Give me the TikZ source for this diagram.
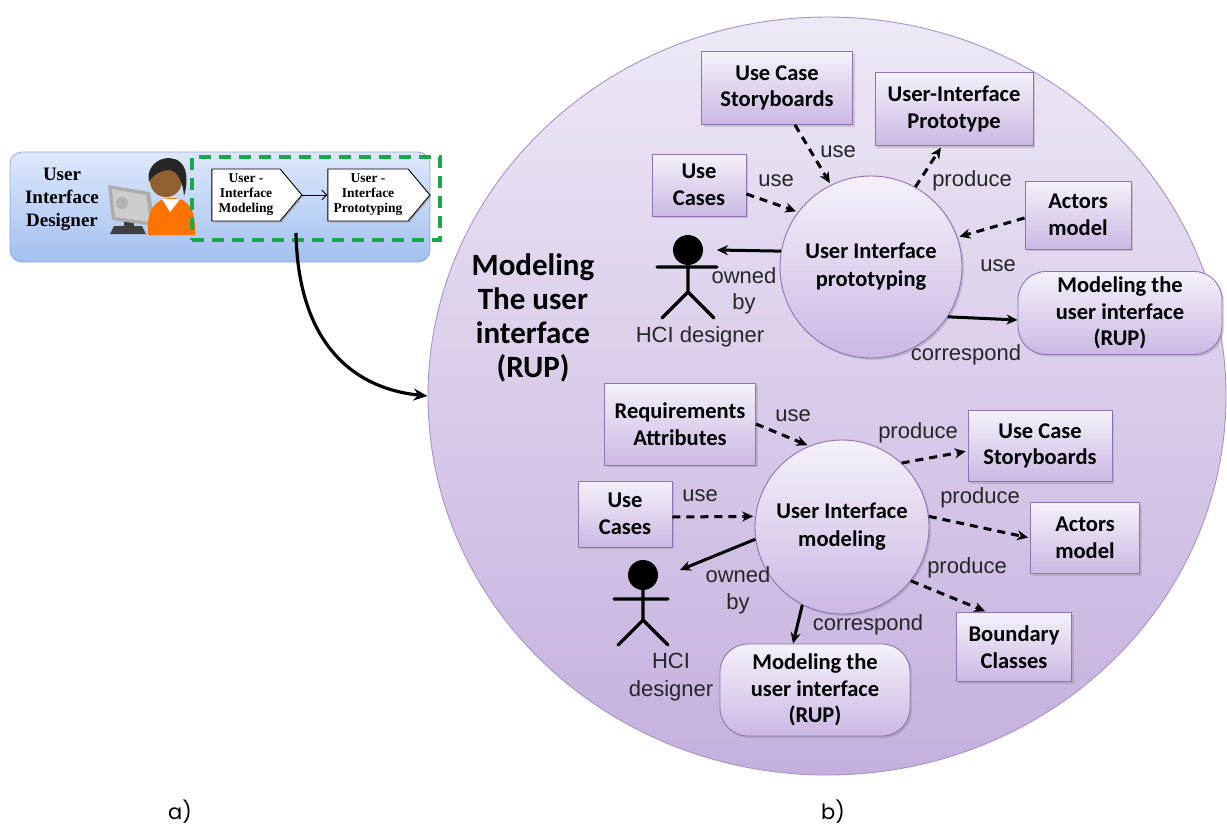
\documentclass[tikz,border=0pt]{standalone}
\usepackage{fontspec}
\setmainfont{Liberation Sans}
\newfontfamily\boxfont{Carlito}
\newfontfamily\titlefont{Liberation Serif}
\newfontfamily\capfont{Poppins}
\usetikzlibrary{shapes.geometric,shapes.symbols,shadows,arrows.meta,calc}

\definecolor{boxtop}{HTML}{F5F1FA}
\definecolor{boxbot}{HTML}{CBB8E3}
\definecolor{boxline}{HTML}{8C74B6}
\definecolor{bigtop}{HTML}{EEE8F6}
\definecolor{bigbot}{HTML}{C4B0DD}
\definecolor{bigline}{HTML}{A893C8}
\definecolor{paneltop}{HTML}{DDE8FB}
\definecolor{panelbot}{HTML}{A3C0F0}
\definecolor{panelline}{HTML}{8FAADB}
\definecolor{dashgreen}{HTML}{19A84B}

\tikzset{
  boxnode/.style={draw=boxline, line width=0.9pt, top color=boxtop, bottom color=boxbot,
    font=\boxfont\bfseries\fontsize{22.5}{26.5}\selectfont, align=center, inner sep=0pt,
    drop shadow={opacity=0.3, shadow xshift=2pt, shadow yshift=-2pt}},
  procnode/.style={circle, draw=boxline, line width=0.9pt, top color=boxtop, bottom color=boxbot,
    font=\boxfont\bfseries\fontsize{22.5}{28}\selectfont, align=center, inner sep=0pt,
    drop shadow={opacity=0.3, shadow xshift=2pt, shadow yshift=-2pt}},
  rupnode/.style={boxnode, rounded corners=28pt},
  dsh/.style={-{Stealth[length=11pt,width=10pt]}, line width=3pt, dash pattern=on 8pt off 6pt, shorten >=2pt},
  sol/.style={-{Stealth[length=11pt,width=10pt]}, line width=3pt},
  lbl/.style={font=\fontsize{22}{26}\selectfont, text=black!85, inner sep=0pt},
  stick/.style={line width=3.2pt, line cap=round},
  stepnode/.style={signal, signal to=east, signal pointer angle=100, draw=black, line width=0.9pt,
    fill=white, font=\titlefont\bfseries\fontsize{13.5}{15}\selectfont, align=center,
    inner sep=0pt, drop shadow={opacity=0.35, shadow xshift=1.5pt, shadow yshift=-1.5pt}},
}

\begin{document}
\begin{tikzpicture}[x=1pt,y=-1pt]
\useasboundingbox (0,0) rectangle (1227,825);
\fill[white] (0,0) rectangle (1227,825);

% ---------- left panel: designer and activities ----------
\node (panel) [draw=panelline, line width=0.8pt, rounded corners=12pt, top color=paneltop,
  bottom color=panelbot, minimum width=420pt, minimum height=110pt, inner sep=0pt] at (220,207) {};
\node (role) [font=\titlefont\bfseries\fontsize{19}{23}\selectfont, align=center] at (62,199)
  {User\\Interface\\Designer};

% person at a monitor
\fill[black!75] (114,226) -- (142,226) -- (146,234) -- (110,234) -- cycle;
\fill[gray!50!black] (124,212) rectangle (134,228);
\fill[gray!65] (108,185) -- (150,192) -- (155,226) -- (112,220) -- cycle;
\fill[gray!40] (112,189) -- (146,195) -- (150,222) -- (115,217) -- cycle;
\fill[gray!60] (122,203) circle (6pt);
\fill[orange!90!red] (148,235) .. controls (146,210) and (155,198) .. (172,198)
  .. controls (189,198) and (196,210) .. (195,235) -- cycle;
\fill[white] (162,199) -- (170,212) -- (180,199) -- cycle;
\fill[brown!75!black] (166,181) circle (16pt);
\fill[black!85] (149,182) .. controls (145,162) and (168,152) .. (180,162)
  .. controls (190,170) and (186,190) .. (184,196)
  .. controls (183,182) and (178,172) .. (170,170)
  .. controls (160,170) and (152,176) .. (149,182) -- cycle;

\node (m1) [stepnode, minimum width=90pt, minimum height=52pt] at (246,195)
  {User -\\Interface\\Modeling};
\node (m2) [stepnode, minimum width=102pt, minimum height=52pt] at (368,195)
  {User -\\Interface\\Prototyping};
\draw[-{Straight Barb[length=5pt]}, line width=0.9pt] (m1.east) -- (m2.west);

\node (grp) [draw=dashgreen, line width=3.5pt, dash pattern=on 12pt off 8pt,
  minimum width=248pt, minimum height=83pt, inner sep=0pt] at (316,198.5) {};

% ---------- right panel ----------
\node (rup) [ellipse, draw=bigline, line width=0.9pt, top color=bigtop, bottom color=bigbot,
  minimum width=798pt, minimum height=758pt, inner sep=0pt] at (827,396) {};

\coordinate (gout) at (296,233);
\draw[line width=3.2pt, -{Stealth[length=14pt,width=12pt]}] (gout)
  .. controls (298,340) and (350,388) .. (rup.west);

\node (rtitle) [font=\boxfont\bfseries\fontsize{31}{34}\selectfont, align=center] at (533,318)
  {Modeling\\The user\\interface\\(RUP)};

% upper cluster
\node (proto) [procnode, minimum size=182pt] at (871,267) {User Interface\\prototyping};
\node (ucs1) [boxnode, minimum width=151pt, minimum height=73pt] at (777,88) {Use Case\\Storyboards};
\node (uip) [boxnode, minimum width=158pt, minimum height=73pt] at (954,109) {User-Interface\\Prototype};
\node (uc1) [boxnode, minimum width=94pt, minimum height=62pt] at (699,185) {Use\\Cases};
\node (act1) [boxnode, minimum width=106pt, minimum height=68pt] at (1078,215) {Actors\\model};
\node (rup1) [rupnode, minimum width=204pt, minimum height=83pt] at (1120,313)
  {Modeling the\\user interface\\(RUP)};

% HCI designer (upper)
\fill (688,250) circle (15pt);
\draw[stick] (688,255) -- (688,292) (657,267) -- (717,267)
  (688,292) -- (662,318) (688,292) -- (714,318);
\coordinate (hci1) at (717,250);
\node (hcil1) [lbl] at (700,337) {HCI designer};

\draw[dsh] ([yshift=-9pt]uc1.east) -- (proto.143);
\draw[dsh] ([xshift=18pt]ucs1.south) -- (proto.116);
\draw[dsh] (proto.61) -- ([xshift=-12pt]uip.south);
\draw[dsh] ([yshift=-3pt]act1.west) -- (proto.19);
\draw[sol] (proto.170) -- (hci1);
\draw[sol] (proto.-33) -- ([yshift=-7pt]rup1.west);

\node[lbl] at (838,152) {use};
\node[lbl] at (776,181) {use};
\node[lbl] at (972,181) {produce};
\node[lbl] at (998,266) {use};
\node[lbl] at (966,355) {correspond};
\node[lbl, align=center, font=\fontsize{22}{26}\selectfont] at (744,291) {owned\\by};

% lower cluster
\node (model) [procnode, minimum size=174pt] at (842,527) {User Interface\\modeling};
\node (req) [boxnode, minimum width=151pt, minimum height=82pt] at (680,424) {Requirements\\Attributes};
\node (ucs2) [boxnode, minimum width=144pt, minimum height=71pt] at (1040,446) {Use Case\\Storyboards};
\node (uc2) [boxnode, minimum width=94pt, minimum height=66pt] at (625,514) {Use\\Cases};
\node (act2) [boxnode, minimum width=109pt, minimum height=71pt] at (1085,538) {Actors\\model};
\node (bnd) [boxnode, minimum width=115pt, minimum height=69pt] at (1014,647) {Boundary\\Classes};
\node (rup2) [rupnode, minimum width=190pt, minimum height=92pt] at (815,690)
  {Modeling the\\user interface\\(RUP)};

% HCI designer (lower)
\fill (643,575) circle (15pt);
\draw[stick] (643,580) -- (643,620) (614,599) -- (668,599)
  (643,620) -- (618,645) (643,620) -- (668,645);
\coordinate (hci2) at (680,570);
\node (hcil2) [lbl, align=center, font=\fontsize{22}{28}\selectfont] at (671,677) {HCI\\designer};

\draw[dsh] (req.east) -- (model.112);
\draw[dsh] ([yshift=-3pt]uc2.east) -- (model.173);
\draw[dsh] (model.47) -- ([yshift=-5pt]ucs2.west);
\draw[dsh] (model.7) -- (act2.west);
\draw[dsh] (model.-38) -- ([xshift=-27pt]bnd.north);
\draw[sol] (model.188) -- (hci2);
\draw[sol] (model.243) -- ([xshift=-22pt]rup2.north);

\node[lbl] at (793,416) {use};
\node[lbl] at (700,496) {use};
\node[lbl] at (918,433) {produce};
\node[lbl] at (980,498) {produce};
\node[lbl] at (967,568) {produce};
\node[lbl] at (868,625) {correspond};
\node[lbl, align=center, font=\fontsize{22}{27}\selectfont] at (738,590) {owned\\by};

% captions
\node (capa) [font=\capfont\fontsize{21}{24}\selectfont] at (180,812) {a)};
\node (capb) [font=\capfont\fontsize{21}{24}\selectfont] at (833,812) {b)};
\end{tikzpicture}
\end{document}
